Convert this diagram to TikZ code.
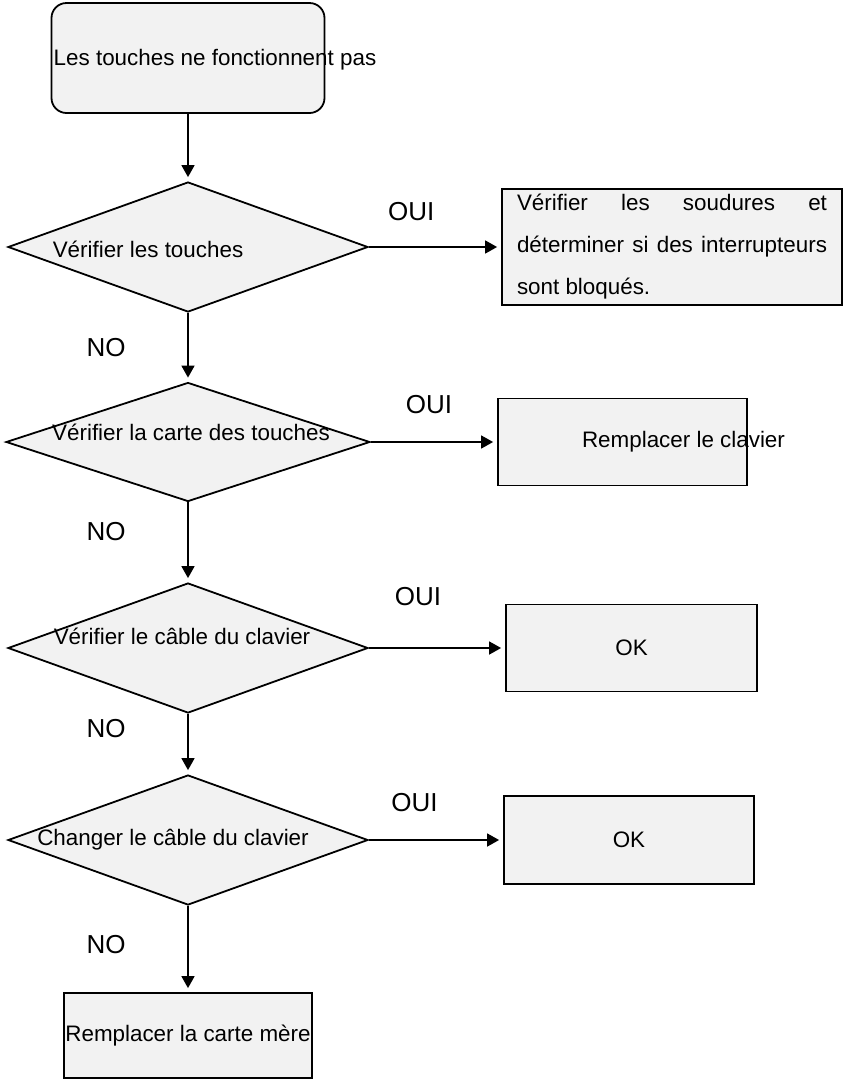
\documentclass[tikz,border=0pt]{standalone}
\usepackage{fontspec}
\setmainfont{Liberation Sans}
\usetikzlibrary{shapes.geometric,arrows.meta}
\definecolor{boxgray}{HTML}{F2F2F2}

\tikzset{
  base/.style={draw, line width=1.8pt, fill=boxgray, font=\fontsize{22.4}{42}\selectfont},
  startbox/.style={base, rectangle, rounded corners=15pt, minimum width=273pt, minimum height=110pt},
  decision/.style={base, diamond, minimum width=360pt, minimum height=130pt, inner sep=0pt},
  action/.style={base, rectangle, minimum width=249pt, minimum height=87pt, inner xsep=1pt},
  tag/.style={font=\fontsize{26}{30}\selectfont, inner sep=0pt},
  every label/.style={font=\fontsize{22.4}{27}\selectfont, inner sep=0pt},
}

\begin{document}
\begin{tikzpicture}[x=1pt, y=1pt, >={Triangle[length=12pt,width=13pt]}]
  \useasboundingbox (0,0) rectangle (844,-1080);
  \node [startbox, label={[xshift=27pt,yshift=-2pt]center:Les touches ne fonctionnent pas}] (s0) at (188,-58) {};
  \node [decision, node distance=189pt, label={[xshift=-40pt,yshift=-2pt]center:Vérifier les touches}] (d1) [below of=s0] {};
  \node [decision, node distance=195pt, minimum width=364pt, minimum height=119pt,
         label={[xshift=3pt,yshift=10pt]center:Vérifier la carte des touches}] (d2) [below of=d1] {};
  \node [decision, node distance=206pt, label={[xshift=-6pt,yshift=12pt]center:Vérifier le câble du clavier}] (d3) [below of=d2] {};
  \node [decision, node distance=192pt, label={[xshift=-15pt]center:Changer le câble du clavier}] (d4) [below of=d3] {};
  \node [action, node distance=195.5pt, minimum width=248pt, minimum height=85pt] (e5) [below of=d4] {Remplacer la carte mère};

  \node [action, node distance=484pt, minimum width=340pt, minimum height=116pt, inner xsep=15pt,
         text width=310pt, align=justify] (r1) [right of=d1]
        {Vérifier les soudures et\linebreak déterminer si des interrupteurs\linebreak sont bloqués.};
  \node [action, node distance=434.5pt, label={[xshift=61pt]center:Remplacer le clavier}] (r2) [right of=d2] {};
  \node [action, node distance=443.5pt, minimum width=251pt] (r3) [right of=d3] {OK};
  \node [action, node distance=441pt, minimum width=250pt, minimum height=88pt] (r4) [right of=d4] {OK};

  \path[->, line width=1.6pt, shorten >=4pt]
  (s0) edge [] (d1)
  (d1.east) edge [] node [tag, above=25.7pt, pos=0.32] {OUI} (r1.west)
  (d1.south) edge [] node [tag, left=61.5pt, pos=0.5] {NO} (d2.north)
  (d2.east) edge [] node [tag, above=27.7pt, pos=0.46] {OUI} (r2.west)
  (d2.south) edge [] node [tag, left=61.5pt, pos=0.37] {NO} (d3.north)
  (d3.east) edge [] node [tag, above=41.7pt, pos=0.36] {OUI} (r3.west)
  (d3.south) edge [] node [tag, left=61.5pt, pos=0.24] {NO} (d4.north)
  (d4.east) edge [] node [tag, above=27.7pt, pos=0.34] {OUI} (r4.west)
  (d4.south) edge [] node [tag, left=61.5pt, pos=0.45] {NO} (e5.north);
\end{tikzpicture}
\end{document}
